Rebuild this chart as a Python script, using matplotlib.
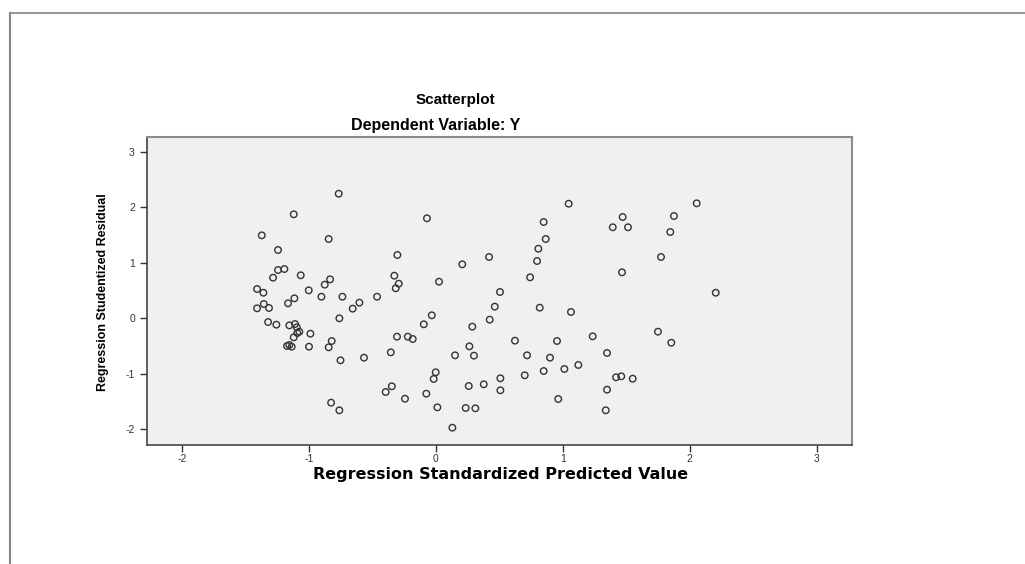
import matplotlib
matplotlib.use("Agg")
import matplotlib.pyplot as plt
from matplotlib.lines import Line2D

# values
pred = [-0.764, -1.118, -1.370, -0.843, -1.242, -1.242, -1.192, -1.281, -1.063, -0.832,
        -0.874, -1.407, -1.357, -1.000, -0.900, -0.735, -0.462, -1.113, -1.354, -1.163,
        -0.601, -1.407, -1.313, -0.654, -0.759, -1.320, -1.255, -1.153, -1.108, -1.094,
        -1.074, -1.090, -0.987, -1.118, -0.819, -1.171, -1.153, -1.134, -0.998, -0.843,
        -0.750, -0.565, -0.824, -0.759,
        -0.069, 1.047, 0.850, 0.866, 0.808, 0.798, 0.743, -0.302, 0.420, 0.209,
        -0.326, -0.291, -0.315, 0.026, 0.506,
        0.465, 0.819, 1.065, -0.031, -0.094, 0.425, 0.288, -0.305, -0.220, -0.181,
        1.236, 0.624, 0.955, -0.354, 0.265, 0.152, 0.301, 0.719, 0.900, 1.349,
        0.000, -0.016, 0.850, 1.013, 1.123, 0.701, 0.509, 0.378, 0.260, -0.346,
        -0.394, 0.509, -0.242, -0.074, 0.965, 1.349, 0.013, 0.236, 0.312, 1.339,
        0.131,
        2.055, 1.472, 1.876, 1.394, 1.514, 1.847, 1.774, 1.467, 2.205,
        1.750, 1.855, 1.420, 1.461, 1.551]
resid = [2.245, 1.874, 1.495, 1.429, 1.231, 0.870, 0.888, 0.732, 0.775, 0.702,
         0.606, 0.528, 0.461, 0.504, 0.389, 0.389, 0.389, 0.360, 0.258, 0.270,
         0.282, 0.180, 0.186, 0.174, 0.000, -0.067, -0.115, -0.127, -0.103, -0.162,
         -0.241, -0.265, -0.277, -0.343, -0.409, -0.499, -0.481, -0.512, -0.511, -0.523,
         -0.757, -0.709, -1.520, -1.658,
         1.802, 2.065, 1.735, 1.429, 1.254, 1.032, 0.739, 1.141, 1.105, 0.973,
         0.768, 0.624, 0.541, 0.660, 0.474,
         0.210, 0.192, 0.114, 0.054, -0.108, -0.025, -0.151, -0.331, -0.331, -0.373,
         -0.325, -0.403, -0.409, -0.613, -0.505, -0.667, -0.673, -0.667, -0.709, -0.625,
         -0.973, -1.093, -0.950, -0.913, -0.841, -1.027, -1.081, -1.189, -1.220, -1.225,
         -1.328, -1.297, -1.449, -1.358, -1.454, -1.286, -1.604, -1.616, -1.622, -1.658,
         -1.971,
         2.072, 1.825, 1.843, 1.640, 1.640, 1.555, 1.105, 0.829, 0.461,
         -0.241, -0.440, -1.063, -1.045, -1.088]
x_ticks = [-2, -1, 0, 1, 2, 3]
y_ticks = [-2, -1, 0, 1, 2, 3]

plt.rcParams['font.family'] = ['Liberation Sans', 'DejaVu Sans']
plt.rcParams['axes.unicode_minus'] = False

fig = plt.figure(figsize=(10.25, 5.64), dpi=100)
W, H = 1025, 564

# frame lines of the output window (top and left)
fig.add_artist(Line2D([10 / W, 1], [1 - 13 / H, 1 - 13 / H], color='#999999', lw=1.5))
fig.add_artist(Line2D([10 / W, 10 / W], [0, 1 - 13 / H], color='#888888', lw=1.5))

ax = fig.add_axes([146.7 / W, 1 - 445 / H, (852 - 146.7) / W, (445 - 137) / H])
ax.set_facecolor('#f0f0f0')
ax.scatter(pred, resid, s=22, facecolors='none', edgecolors='#333333', linewidths=1.0)

ax.set_xlim(-2.276, 3.278)
ax.set_ylim(-2.283, 3.267)
ax.set_xticks(x_ticks)
ax.set_yticks(y_ticks)
ax.tick_params(direction='out', length=5, width=1, color='#333333',
               labelsize=7.5, labelcolor='#333333')
ax.tick_params(axis='x', pad=1.5)

for side in ['left', 'bottom']:
    ax.spines[side].set_color('#444444')
    ax.spines[side].set_linewidth(1.2)
for side in ['top', 'right']:
    ax.spines[side].set_color('#8c8c8c')
    ax.spines[side].set_linewidth(1.5)

# titles and axis labels
fig.text(455 / W, 1 - 100 / H, 'Scatterplot', ha='center', va='center',
         fontsize=11, fontweight='bold')
fig.text(436 / W, 1 - 126 / H, 'Dependent Variable: Y', ha='center', va='center',
         fontsize=11.5, fontweight='bold')
fig.text(501 / W, 1 - 474 / H, 'Regression Standardized Predicted Value',
         ha='center', va='center', fontsize=11.5, fontweight='bold',
         family=['DejaVu Sans'])
fig.text(103 / W, 1 - 292 / H, 'Regression Studentized Residual', rotation=90,
         ha='center', va='center', fontsize=9, fontweight='bold')

fig.savefig('out.png', dpi=100)
